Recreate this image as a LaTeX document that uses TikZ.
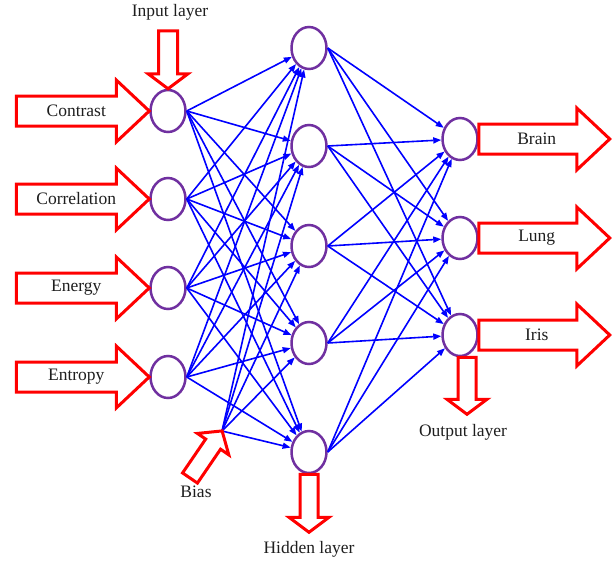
\documentclass[tikz,border=0pt]{standalone}
\usepackage{fontspec}
\setmainfont{Liberation Serif}
\usetikzlibrary{shapes.geometric,arrows.meta}
\definecolor{nodepurple}{RGB}{112,48,160}
\definecolor{txtgray}{RGB}{30,30,30}
\tikzset{
  x=1pt, y=1pt,
  neuron/.style={ellipse, draw=nodepurple, line width=2.5pt, fill=white,
    minimum width=35pt, minimum height=42pt, inner sep=0pt},
  link/.style={draw=blue, line width=1.6pt, -{Triangle[length=8pt,width=6pt]}},
  redarrow/.style={draw=red, line width=3pt, fill=white, line join=miter},
  lbl/.style={font=\fontsize{17.5}{20}\selectfont, text=txtgray, inner sep=0pt},
  pics/blockarrow/.style n args={4}{code={
    \draw[redarrow] (0,-#2) -- ({#1-#4},-#2) -- ({#1-#4},-#3) -- (#1,0)
      -- ({#1-#4},#3) -- ({#1-#4},#2) -- (0,#2) -- cycle;
  }}
}
\begin{document}
\begin{tikzpicture}
\useasboundingbox (0,0) rectangle (612,-562);
% nodes
\node[neuron] (c1) at (168,-111) {};
\node[neuron] (c2) at (168,-199) {};
\node[neuron] (c3) at (168,-288) {};
\node[neuron] (c4) at (168,-377) {};
\node[neuron] (h1) at (309,-48) {};
\node[neuron] (h2) at (309,-146) {};
\node[neuron] (h3) at (309,-246) {};
\node[neuron] (h4) at (309,-343) {};
\node[neuron] (h5) at (309,-452) {};
\node[neuron] (o1) at (460,-139) {};
\node[neuron] (o2) at (460,-238) {};
\node[neuron] (o3) at (460,-335) {};
\coordinate (bias) at (222,-431);
% connections
\foreach \s in {c1,c2,c3,c4}{
  \foreach \t in {h1,h2,h3,h4,h5}{
    \draw[link] (\s.east) -- (\t);
  }
}
\foreach \t in {h1,h2,h3,h4,h5}{
  \draw[link] (bias) -- (\t);
}
\foreach \s in {h1,h2,h3,h4,h5}{
  \foreach \t in {o1,o2,o3}{
    \draw[link] (\s.east) -- (\t);
  }
}
% input block arrows
\foreach \n/\txt in {c1/Contrast,c2/Correlation,c3/Energy,c4/Entropy}{
  \pic at ([xshift=-133pt]\n.west) {blockarrow={133}{15}{31}{33}};
  \node[lbl] (t\n) at ([xshift=-73pt]\n.west) {\txt};
}
% output block arrows
\foreach \n/\txt in {o1/Brain,o2/Lung,o3/Iris}{
  \pic at (\n.east) {blockarrow={131}{15}{31}{33}};
  \node[lbl] (t\n) at ([xshift=58pt]\n.east) {\txt};
}
% layer arrows
\pic[rotate=-90] at ([yshift=58pt]c1.north) {blockarrow={58}{9.5}{20}{15}};
\node[lbl] (inlabel) at (170,-12) {Input layer};
\pic[rotate=-90] at (h5.south) {blockarrow={58}{9}{20}{15}};
\node[lbl] (hidlabel) at (309,-549) {Hidden layer};
\pic[rotate=-90] at ([xshift=7pt]o3.south) {blockarrow={57}{9}{20}{15}};
\node[lbl] (outlabel) at (463,-432) {Output layer};
\pic[rotate=55.7] at ([xshift=-32pt,yshift=-47pt]bias) {blockarrow={57}{9}{19}{16}};
\node[lbl] (biaslabel) at (196,-492) {Bias};
\end{tikzpicture}
\end{document}
